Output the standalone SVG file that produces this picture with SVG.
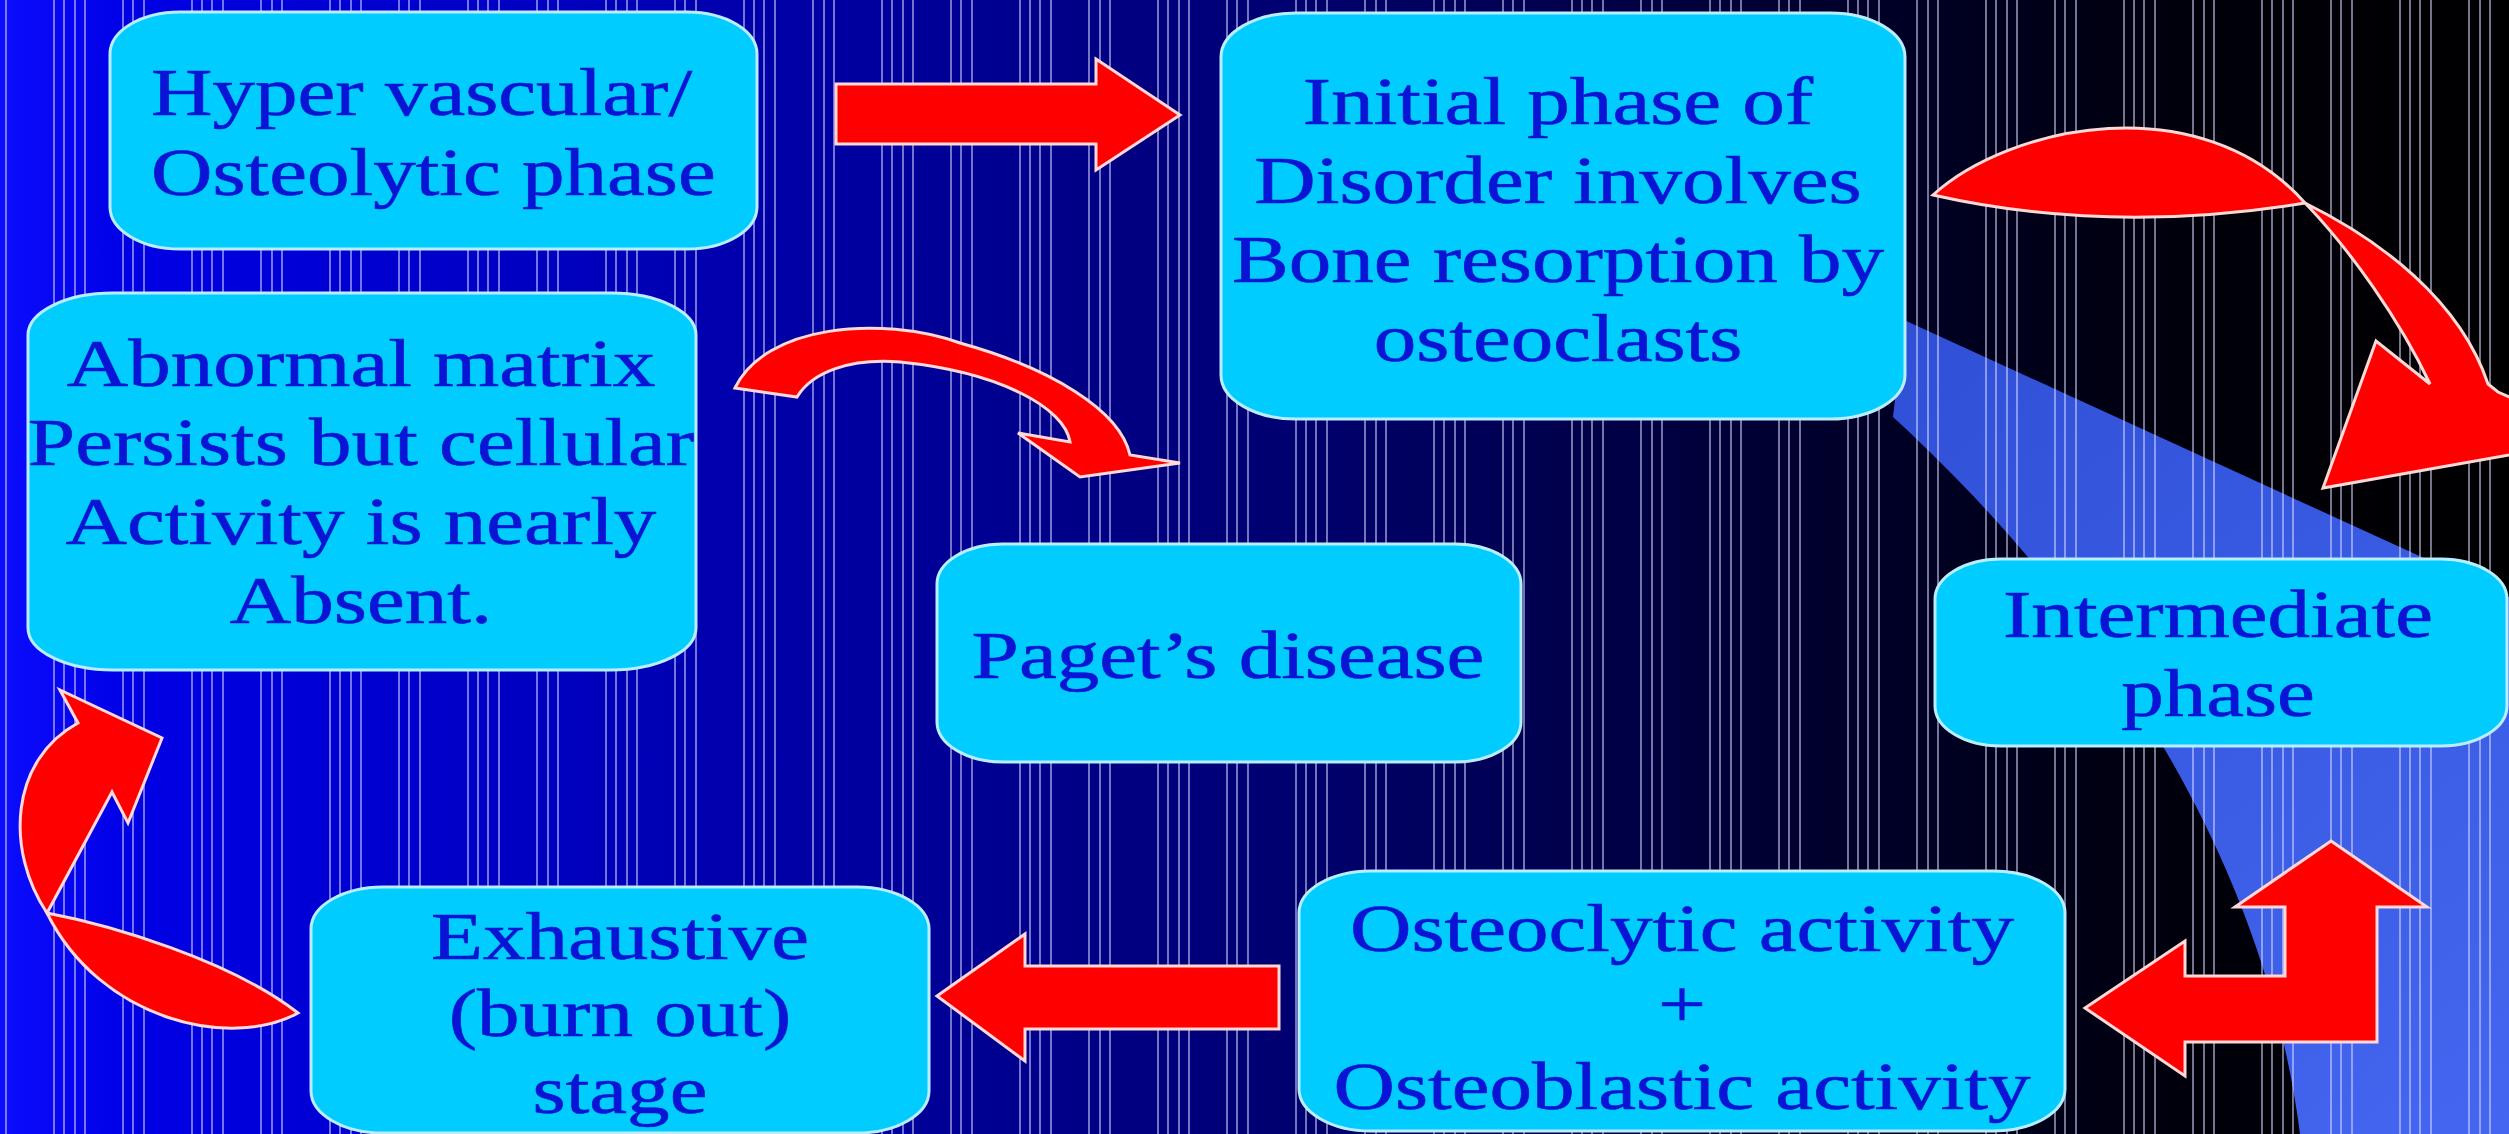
<svg xmlns="http://www.w3.org/2000/svg" width="2509" height="1134" viewBox="0 0 2509 1134">
<defs>
<linearGradient id="bg" x1="0" y1="0" x2="2509" y2="0" gradientUnits="userSpaceOnUse">
<stop offset="0" stop-color="#0c0cff"/>
<stop offset="0.05" stop-color="#0000e6"/>
<stop offset="0.22" stop-color="#0000c0"/>
<stop offset="0.5" stop-color="#000074"/>
<stop offset="0.72" stop-color="#00002e"/>
<stop offset="0.88" stop-color="#00000a"/>
<stop offset="1" stop-color="#000000"/>
</linearGradient>
<linearGradient id="wedge" x1="1900" y1="300" x2="2509" y2="1134" gradientUnits="userSpaceOnUse">
<stop offset="0" stop-color="#2f4fd6"/>
<stop offset="1" stop-color="#4466f0"/>
</linearGradient>
<pattern id="stripes" patternUnits="userSpaceOnUse" x="122" y="0" width="276" height="1134">
<g stroke="#d8d8ff" stroke-opacity="0.6" stroke-width="1.8">
<line x1="1" y1="0" x2="1" y2="1134"/><line x1="11" y1="0" x2="11" y2="1134"/><line x1="22" y1="0" x2="22" y2="1134"/>
<line x1="70" y1="0" x2="70" y2="1134"/><line x1="80" y1="0" x2="80" y2="1134"/><line x1="90" y1="0" x2="90" y2="1134"/><line x1="101" y1="0" x2="101" y2="1134"/>
<line x1="139" y1="0" x2="139" y2="1134"/><line x1="150" y1="0" x2="150" y2="1134"/><line x1="160" y1="0" x2="160" y2="1134"/>
<line x1="208" y1="0" x2="208" y2="1134"/><line x1="218" y1="0" x2="218" y2="1134"/><line x1="229" y1="0" x2="229" y2="1134"/><line x1="239" y1="0" x2="239" y2="1134"/>
</g>
</pattern>
<style>
.box{fill:#00ccff;stroke:#b8eeff;stroke-width:3}
.t{font-family:"Liberation Serif","Times New Roman",serif;font-size:67px;fill:#0a14d4;stroke:#0a14d4;stroke-width:0.6;text-anchor:middle}
.ts{font-family:"Liberation Serif","Times New Roman",serif;font-size:67px;fill:#0a14d4;stroke:#0a14d4;stroke-width:0.6;text-anchor:start}
.arrow{fill:#ff0000;stroke:#ffd8d8;stroke-width:3;stroke-linejoin:miter}
</style>
</defs>

<rect x="0" y="0" width="2509" height="1134" fill="url(#bg)"/>
<path d="M1904,320 L2509,597 L2509,1134 L2300,1134 C2260,820 2060,570 1893,417 Z" fill="url(#wedge)"/>
<rect x="0" y="0" width="2509" height="1134" fill="url(#stripes)"/>

<g id="connectors">
<path id="arrow-hyper-initial" class="arrow" d="M836,84 L1096,84 L1096,59 L1180,115 L1096,170 L1096,144 L836,144 Z"/>
<g id="arrow-initial-intermediate">
<path class="arrow" d="M1933,195 C2010,125 2200,85 2305,203 Q2110,235 1933,195 Z"/>
<path class="arrow" d="M2305,203 C2380,240 2460,300 2488,384 L2498,392 L2560,420 L2560,446 L2323,488 L2376,341 L2430,384 C2400,320 2350,250 2307,205 Z"/>
</g>
<path id="arrow-osteo-intermediate" class="arrow" d="M2331,841 L2427,907 L2377,907 L2377,1042 L2185,1042 L2185,1076 L2085,1008 L2185,941 L2185,976 L2285,976 L2285,907 L2235,907 Z"/>
<path id="arrow-osteo-exhaustive" class="arrow" d="M1279,966 L1025,966 L1025,934 L937,996 L1025,1061 L1025,1029 L1279,1029 Z"/>
<g id="arrow-exhaustive-abnormal">
<path class="arrow" d="M47,913 C110,925 230,960 298,1013 C230,1050 100,1020 47,913 Z"/>
<path class="arrow" d="M47,913 C5,850 10,760 78,723 L60,690 L162,738 L128,823 L112,792 Z"/>
</g>
<path id="arrow-abnormal-paget" class="arrow" d="M735,388 C765,325 880,315 960,343 C1050,368 1120,410 1130,455 L1180,463 L1080,477 L1018,433 L1070,442 C1065,408 1000,372 900,362 C850,358 812,372 797,397 Z"/>
</g>

<g id="node-hyper">
<rect class="box" x="110" y="12" width="647" height="237" rx="70" ry="42"/>
<g transform="translate(151,0) scale(1.27,1)"><text class="ts"><tspan x="0" y="115">Hyper vascular/</tspan><tspan x="0" y="195">Osteolytic phase</tspan></text></g>
</g>

<g id="node-initial">
<rect class="box" x="1221" y="13" width="684" height="406" rx="75" ry="44"/>
<g transform="translate(1558,0) scale(1.27,1)"><text class="t"><tspan x="0" y="124">Initial phase of</tspan><tspan x="0" y="203">Disorder involves</tspan><tspan x="0" y="282">Bone resorption by</tspan><tspan x="0" y="361">osteoclasts</tspan></text></g>
</g>

<g id="node-abnormal">
<rect class="box" x="28" y="293" width="668" height="377" rx="85" ry="42"/>
<g transform="translate(361,0) scale(1.27,1)"><text class="t"><tspan x="0" y="386">Abnormal matrix</tspan><tspan x="0" y="465">Persists but cellular</tspan><tspan x="0" y="544">Activity is nearly</tspan><tspan x="0" y="623">Absent.</tspan></text></g>
</g>

<g id="node-paget">
<rect class="box" x="937" y="544" width="584" height="218" rx="66" ry="40"/>
<g transform="translate(1228,0) scale(1.27,1)"><text class="t"><tspan x="0" y="678">Paget’s disease</tspan></text></g>
</g>

<g id="node-intermediate">
<rect class="box" x="1935" y="559" width="572" height="187" rx="66" ry="40"/>
<g transform="translate(2218,0) scale(1.27,1)"><text class="t"><tspan x="0" y="637">Intermediate</tspan><tspan x="0" y="716">phase</tspan></text></g>
</g>

<g id="node-osteo">
<rect class="box" x="1299" y="871" width="766" height="260" rx="72" ry="42"/>
<g transform="translate(1682,0) scale(1.27,1)"><text class="t"><tspan x="0" y="951">Osteoclytic activity</tspan><tspan x="0" y="1027">+</tspan><tspan x="0" y="1109">Osteoblastic activity</tspan></text></g>
</g>

<g id="node-exhaustive">
<rect class="box" x="311" y="887" width="618" height="246" rx="72" ry="42"/>
<g transform="translate(620,0) scale(1.27,1)"><text class="t"><tspan x="0" y="959">Exhaustive</tspan><tspan x="0" y="1036">(burn out)</tspan><tspan x="0" y="1113">stage</tspan></text></g>
</g>
</svg>
